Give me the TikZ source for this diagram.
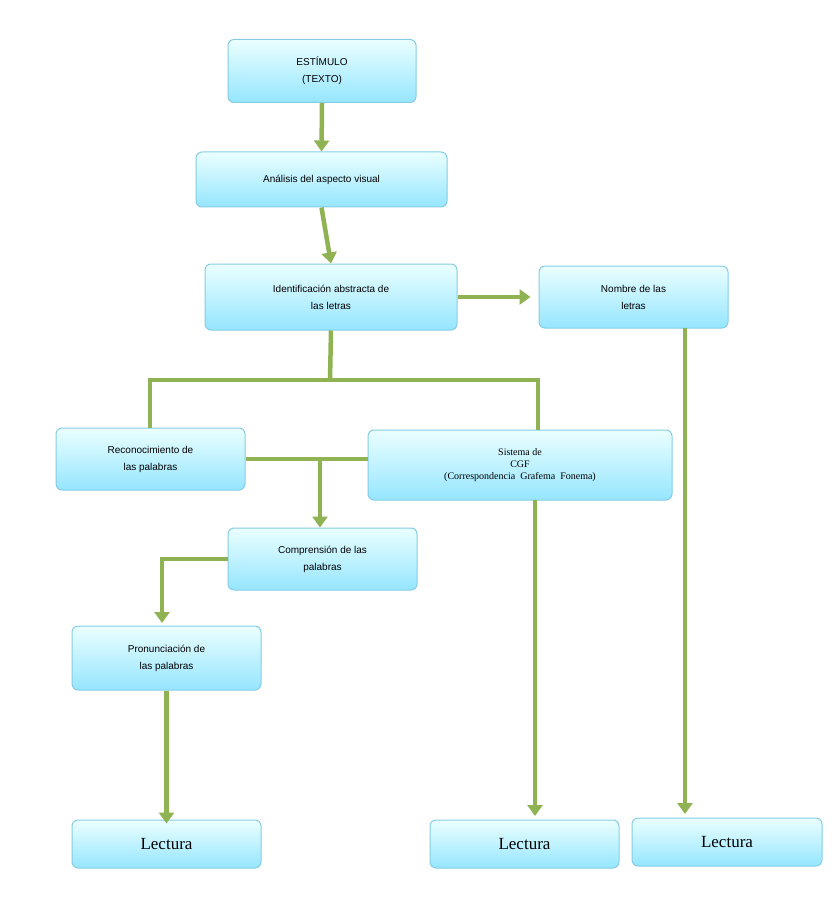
\documentclass[tikz,border=0pt]{standalone}
\usepackage{fontspec}
\setmainfont{Liberation Serif}
\setsansfont{Liberation Sans}
\usetikzlibrary{arrows.meta}
\definecolor{gr}{HTML}{8FB253}
\definecolor{bd}{HTML}{86CDE3}
\begin{document}
\begin{tikzpicture}[x=1pt,y=-1pt,
 box/.style={draw=bd,line width=1pt,rounded corners=6pt,top color=cyan!8!white,bottom color=cyan!35!white!90!blue,
   font=\sffamily\fontsize{10}{17}\selectfont,align=center,inner sep=0pt},
 lec/.style={box,font=\fontsize{17}{20}\selectfont},
 ln/.style={draw=gr,line width=4.5pt},
 ar/.style={ln,-{Triangle[width=15pt,length=11pt]}}]
\path[fill=white] (0,0) rectangle (831,901);
\useasboundingbox (0,0) rectangle (831,901);
\node[box,minimum width=188pt,minimum height=63pt] (e) at (322,71) {ESTÍMULO\\(TEXTO)};
\node[box,minimum width=251pt,minimum height=55pt] (a) at (321.5,179.5) {Análisis del aspecto visual};
\node[box,minimum width=252pt,minimum height=66pt] (i) at (331,297) {Identificación abstracta de\\las letras};
\node[box,minimum width=189pt,minimum height=62pt] (n) at (633.5,297) {Nombre de las\\letras};
\node[box,minimum width=189pt,minimum height=62pt] (r) at (150.5,459) {Reconocimiento de\\las palabras};
\node[box,minimum width=304pt,minimum height=70pt,font=\fontsize{10}{12}\selectfont] (s) at (520,465) {Sistema de\\CGF\\(Correspondencia\ \ Grafema\ \ Fonema)};
\node[box,minimum width=189pt,minimum height=62pt] (c) at (322.5,559) {Comprensión de las\\palabras};
\node[box,minimum width=189pt,minimum height=64pt] (p) at (166.5,658) {Pronunciación de\\las palabras};
\node[lec,minimum width=189pt,minimum height=48pt] (l1) at (166.5,844) {Lectura};
\node[lec,minimum width=189pt,minimum height=48pt] (l2) at (524.5,844) {Lectura};
\node[lec,minimum width=190pt,minimum height=48pt] (l3) at (727,842) {Lectura};
\draw[ar] (e.south) -- (a.north);
\draw[ar] (a.south) -- (i.north);
\draw[ar] (i.east) -- ([xshift=-8pt]n.west);
\coordinate (j) at (330,380);
\draw[ln] (i.south) -- (j);
\draw[ln] (150,428) -- (150,380) -- (538,380) -- (538,430);
\draw[ln] (r.east) -- (s.west|-r.east);
\draw[ar] (320,458) -- (c.north-|320,0);
\draw[ar] (c.west) -- (162,559) -- (162,623);
\draw[ar] (p.south) -- ([yshift=-4pt]l1.north);
\draw[ar] (535,500) -- (535,816);
\draw[ar] (685,328) -- (685,814);
\end{tikzpicture}
\end{document}
